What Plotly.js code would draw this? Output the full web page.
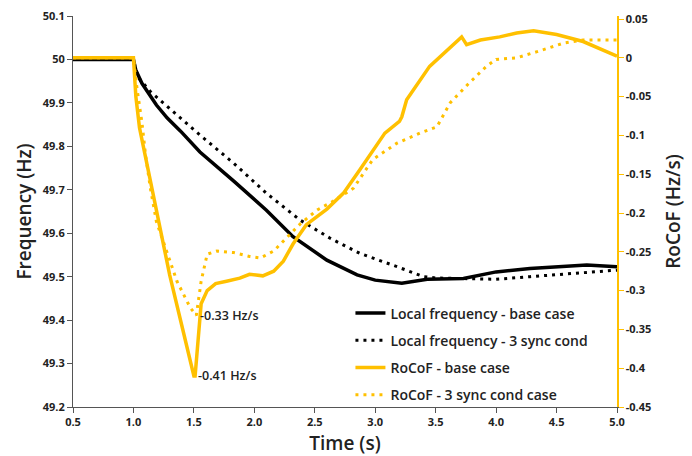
<!DOCTYPE html>
<html>
<head>
<meta charset="utf-8">
<script src="https://cdn.plot.ly/plotly-3.0.1.min.js"></script>
<style>html,body{margin:0;padding:0;background:#fff;}#chart{width:692px;height:456px;}</style>
</head>
<body>
<div id="chart"></div>
<script>
// ---- data ----
const seriesNames = ["Local frequency - base case", "Local frequency - 3 sync cond", "RoCoF - base case", "RoCoF - 3 sync cond case"];

const freqBaseT = [0.5, 1.0, 1.02, 1.07, 1.19, 1.28, 1.39, 1.55, 1.83, 2.1, 2.32, 2.6, 2.85, 3.0, 3.22, 3.43, 3.73, 4.0, 4.28, 4.56, 4.75, 5.0];
const freqBase  = [50, 50, 49.975, 49.945, 49.895, 49.865, 49.835, 49.787, 49.72, 49.653, 49.592, 49.538, 49.504, 49.492, 49.485, 49.494, 49.496, 49.511, 49.519, 49.524, 49.527, 49.523];

const freq3T = [0.5, 1.0, 1.02, 1.05, 1.14, 1.28, 1.41, 1.55, 1.83, 2.1, 2.38, 2.63, 2.87, 3.18, 3.4, 3.5, 3.73, 4.0, 4.28, 4.56, 5.0];
const freq3  = [50, 50, 49.975, 49.955, 49.926, 49.891, 49.86, 49.826, 49.761, 49.692, 49.63, 49.588, 49.554, 49.523, 49.5, 49.497, 49.496, 49.494, 49.5, 49.506, 49.515];

const rocofBaseT = [0.5, 1.0, 1.02, 1.05, 1.1, 1.2, 1.3, 1.4, 1.5, 1.51, 1.54, 1.56, 1.61, 1.68, 1.77, 1.88, 1.96, 2.07, 2.16, 2.24, 2.32, 2.43, 2.6, 2.74, 2.87, 3.08, 3.2, 3.22, 3.26, 3.45, 3.715, 3.756, 3.87, 4.03, 4.17, 4.31, 4.5, 4.72, 5.0];
const rocofBase  = [0, 0, -0.05, -0.09, -0.128, -0.205, -0.28, -0.345, -0.41, -0.41, -0.36, -0.317, -0.30, -0.291, -0.288, -0.284, -0.279, -0.281, -0.275, -0.262, -0.24, -0.215, -0.195, -0.174, -0.145, -0.097, -0.082, -0.076, -0.054, -0.011, 0.027, 0.017, 0.023, 0.027, 0.032, 0.035, 0.030, 0.021, 0.002];

const rocof3T = [0.5, 1.0, 1.03, 1.07, 1.1, 1.14, 1.19, 1.28, 1.36, 1.47, 1.52, 1.56, 1.61, 1.69, 1.83, 1.96, 2.05, 2.16, 2.27, 2.38, 2.52, 2.65, 2.82, 2.98, 3.18, 3.37, 3.51, 3.62, 3.78, 3.92, 4.0, 4.17, 4.34, 4.56, 4.72, 5.0];
const rocof3  = [0, 0, -0.04, -0.083, -0.125, -0.168, -0.211, -0.253, -0.288, -0.322, -0.332, -0.288, -0.253, -0.249, -0.251, -0.256, -0.258, -0.249, -0.232, -0.214, -0.196, -0.185, -0.168, -0.131, -0.11, -0.097, -0.089, -0.058, -0.032, -0.011, -0.002, 0.0, 0.008, 0.019, 0.023, 0.023];

const xTickVals = [0.5, 1.0, 1.5, 2.0, 2.5, 3.0, 3.5, 4.0, 4.5, 5.0];
const xTickText = ["0.5", "1.0", "1.5", "2.0", "2.5", "3.0", "3.5", "4.0", "4.5", "5.0"];
const yTickVals = [49.2, 49.3, 49.4, 49.5, 49.6, 49.7, 49.8, 49.9, 50, 50.1];
const yTickText = ["49.2", "49.3", "49.4", "49.5", "49.6", "49.7", "49.8", "49.9", "50", "50.1"];
const y2TickVals = [-0.45, -0.4, -0.35, -0.3, -0.25, -0.2, -0.15, -0.1, -0.05, 0, 0.05];
const y2TickText = ["-0.45", "-0.4", "-0.35", "-0.3", "-0.25", "-0.2", "-0.15", "-0.1", "-0.05", "0", "0.05"];

const peakLabels = ["-0.33 Hz/s", "-0.41 Hz/s"];
const peakX = [1.52, 1.5];
const peakY = [-0.332, -0.41];

// ---- styles ----
const GOLD = "#FFC000";
const FONT = "Open Sans, Liberation Sans, sans-serif";
const tickFont = {family: FONT, size: 11, color: "#222", weight: 700};
const titleFont = {family: FONT, size: 19, color: "#222", weight: 600};

const traces = [
  {x: freqBaseT, y: freqBase, name: seriesNames[0], mode: "lines", yaxis: "y", legendgroup: "a",
   line: {color: "#000", width: 3.5}},
  {x: freq3T, y: freq3, name: seriesNames[1], mode: "lines", yaxis: "y", legendgroup: "b",
   line: {color: "#000", width: 3, dash: "3px,5px"}},
  {x: rocofBaseT, y: rocofBase, name: seriesNames[2], mode: "lines", yaxis: "y2", legendgroup: "c",
   line: {color: GOLD, width: 3.5}},
  {x: rocof3T, y: rocof3, name: seriesNames[3], mode: "lines", yaxis: "y2", legendgroup: "d",
   line: {color: GOLD, width: 3, dash: "3px,5px"}}
];

const annotations = peakLabels.map((t, i) => ({
  x: peakX[i], y: peakY[i], xref: "x", yref: "y2", text: t, showarrow: false,
  xanchor: "left", yanchor: "middle", xshift: 2,
  font: {family: FONT, size: 12.5, color: "#222", weight: 600}
}));

const layout = {
  width: 692, height: 456,
  margin: {l: 73, r: 75, t: 16, b: 49},
  paper_bgcolor: "#fff", plot_bgcolor: "#fff",
  showlegend: true,
  legend: {x: 0.51, y: 0.28, xanchor: "left", yanchor: "top", bgcolor: "rgba(255,255,255,0)",
           font: {family: FONT, size: 14, color: "#222", weight: 600}, tracegroupgap: 6, itemwidth: 30},
  xaxis: {range: [0.5, 5.0], tickvals: xTickVals, ticktext: xTickText, showgrid: false, zeroline: false,
          showline: true, linecolor: "#555", linewidth: 1, ticks: "outside", ticklen: 5, tickcolor: "#555",
          tickfont: tickFont,
          title: {text: "Time (s)", font: titleFont, standoff: 9}},
  yaxis: {range: [49.2, 50.1], tickvals: yTickVals, ticktext: yTickText, showgrid: false, zeroline: false,
          showline: true, linecolor: "#555", linewidth: 1, ticks: "outside", ticklen: 5, tickcolor: "#555",
          tickfont: tickFont,
          title: {text: "Frequency (Hz)", font: titleFont, standoff: 6}},
  yaxis2: {range: [-0.45, 0.0539], tickvals: y2TickVals, ticktext: y2TickText, overlaying: "y", side: "right",
           showgrid: false, zeroline: false, showline: true, linecolor: GOLD, linewidth: 1.5,
           ticks: "outside", ticklen: 5, tickcolor: GOLD, tickfont: tickFont,
           title: {text: "RoCoF (Hz/s)", font: titleFont, standoff: 16}},
  annotations: annotations
};

Plotly.newPlot("chart", traces, layout, {displayModeBar: false, staticPlot: true});
</script>
</body>
</html>
